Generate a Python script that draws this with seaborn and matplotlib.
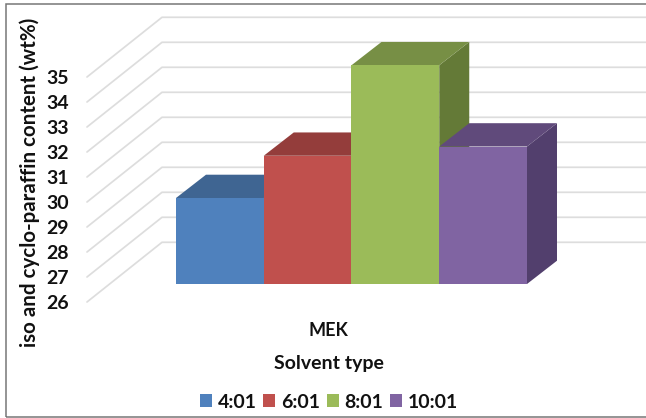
import matplotlib
matplotlib.use("Agg")
import matplotlib.pyplot as plt
from matplotlib.patches import Polygon, Rectangle
from matplotlib.transforms import ScaledTranslation
import pandas as pd
import seaborn as sns

# Chart data
solvents = ["MEK"]
ratios = ["4:01", "6:01", "8:01", "10:01"]
content = [29.44, 31.13, 34.75, 31.5]
y_ticks = [26, 27, 28, 29, 30, 31, 32, 33, 34, 35]

# Face colours of the extruded bars
front_colors = ["#4F81BD", "#C0504D", "#9BBB59", "#8064A2"]
top_colors = ["#3F6592", "#943D3B", "#778F45", "#604A7B"]
side_colors = ["#35567C", "#7E3331", "#647A37", "#523F6D"]

W, H = 646, 418
BASE_PX = 284          # pixel row of the bar base
PX_PER_UNIT = 25       # pixels per wt% on the vertical scale
BAR_SPAN = 0.8
PX_PER_CAT = (527 - 176) / BAR_SPAN
CENTER_PX = (176 + 527) / 2

sns.set_theme(style="white")
plt.rcParams["font.family"] = ["Lato", "DejaVu Sans"]
plt.rcParams["font.weight"] = "bold"
TEXT = "#111111"

fig = plt.figure(figsize=(W / 100, H / 100), dpi=100)
ax = fig.add_axes([0, (H - BASE_PX) / H, 1, BASE_PX / H])
ax.patch.set_alpha(0)

df = pd.DataFrame({"solvent": solvents * len(ratios), "ratio": ratios, "content": content})
sns.barplot(data=df, x="solvent", y="content", hue="ratio", hue_order=ratios,
            palette=front_colors, width=BAR_SPAN, gap=0, saturation=1,
            linewidth=0, ax=ax, zorder=5)

ax.set_xlim(-CENTER_PX / PX_PER_CAT, (W - CENTER_PX) / PX_PER_CAT)
ax.set_ylim(26, 26 + BASE_PX / PX_PER_UNIT)
sns.despine(ax=ax, left=True, bottom=True, right=True, top=True)


def px_x(dx):
    return dx / PX_PER_CAT


def px_y(dy):
    return dy / PX_PER_UNIT


# Receding gridlines: a diagonal on the side wall, then along the back wall
wall_x0 = ax.get_xlim()[0] + px_x(87)
wall_x1 = ax.get_xlim()[0] + px_x(162)
for v in y_ticks:
    y_front = v - px_y(18)
    y_back = v + px_y(41.7)
    ax.plot([wall_x0, wall_x1, ax.get_xlim()[1]], [y_front, y_back, y_back],
            color="#DDDDDD", lw=1.25, clip_on=False, zorder=1,
            solid_joinstyle="miter")

# Extrude each bar: side and top faces sit just behind its front face
depth_x, depth_y = px_x(30), px_y(23.3)
for i, container in enumerate(ax.containers):
    bar = container[0]
    bar.set_zorder(3 * i + 3)
    x0, x1 = bar.get_x(), bar.get_x() + bar.get_width()
    top = content[i]
    base = 26
    ax.add_patch(Polygon([(x1, base), (x1 + depth_x, base + depth_y),
                          (x1 + depth_x, top + depth_y), (x1, top)],
                         closed=True, fc=side_colors[i], ec="none",
                         clip_on=False, zorder=3 * i + 2))
    ax.add_patch(Polygon([(x0, top), (x1, top), (x1 + depth_x, top + depth_y),
                          (x0 + depth_x, top + depth_y)],
                         closed=True, fc=top_colors[i], ec="none",
                         clip_on=False, zorder=3 * i + 2))

# Value axis labels sit on the front edge of the side wall
ax.set_yticks(y_ticks)
ax.set_yticklabels([str(t) for t in y_ticks])
ax.tick_params(axis="y", length=0, pad=0, labelsize=14, labelcolor=TEXT)
for lab in ax.get_yticklabels():
    lab.set_fontweight("bold")
    lab.set_transform(lab.get_transform() +
                      ScaledTranslation(68.5 / 100, -18 / 100, fig.dpi_scale_trans))

ax.tick_params(axis="x", length=0, pad=0, labelsize=13, labelcolor=TEXT)
for lab in ax.get_xticklabels():
    lab.set_fontweight("bold")
    lab.set_va("center")
    lab.set_transform(lab.get_transform() +
                      ScaledTranslation((328.5 - CENTER_PX) / 100, -(331 - BASE_PX) / 100,
                                        fig.dpi_scale_trans))

ax.set_xlabel("Solvent type", fontsize=14, fontweight="bold", color=TEXT, va="center")
ax.xaxis.set_label_coords(328.5 / W, 1 - 363 / H, transform=fig.transFigure)
ax.set_ylabel("iso and cyclo-paraffin content (wt%)", fontsize=14.8, fontweight="bold",
              color=TEXT, va="center")
ax.yaxis.set_label_coords(30 / W, 1 - 182.5 / H, transform=fig.transFigure)

handles, labels = ax.get_legend_handles_labels()
ax.legend(handles, labels, loc="center", bbox_to_anchor=(329 / W, 1 - 402 / H),
          bbox_transform=fig.transFigure, ncol=4, frameon=False, fontsize=14,
          handlelength=0.62, handleheight=0.62, handletextpad=0.3,
          columnspacing=0.33, labelcolor=TEXT, borderpad=0)

# Outer chart frame
fig.add_artist(Rectangle((5.5 / W, 1 - 416.5 / H), 700 / W, 412.5 / H,
                         transform=fig.transFigure, fc="none", ec="#767676", lw=1.1))

fig.savefig("out.png", dpi=100)
